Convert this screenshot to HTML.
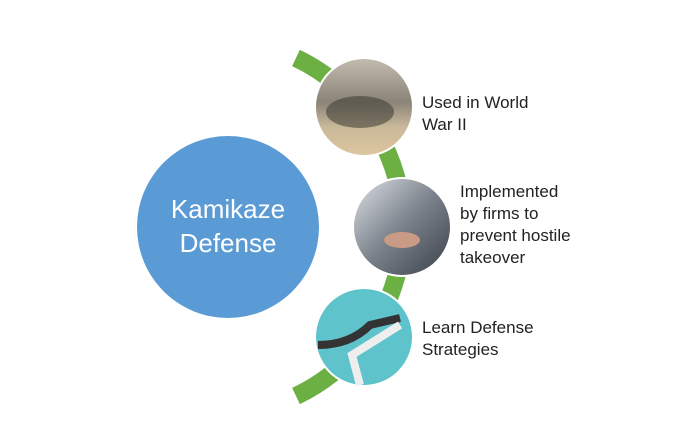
<!DOCTYPE html>
<html><head><style>
body{margin:0;width:700px;height:444px;background:#fff;overflow:hidden;font-family:"Liberation Sans","DejaVu Sans",sans-serif}
.t{position:absolute;font-size:17px;color:#222;line-height:22px}
</style></head><body>
<svg width="700" height="444" style="position:absolute;left:0;top:0">
<defs>
<linearGradient id="g1" x1="0" y1="0" x2="0" y2="1"><stop offset="0" stop-color="#c4bcb0"/><stop offset="0.45" stop-color="#8a8478"/><stop offset="0.7" stop-color="#c9b89a"/><stop offset="1" stop-color="#dcc69c"/></linearGradient>
<linearGradient id="g2" x1="0" y1="0" x2="1" y2="1"><stop offset="0" stop-color="#dfe3e8"/><stop offset="0.5" stop-color="#7a818a"/><stop offset="1" stop-color="#3a3f48"/></linearGradient>
</defs>
<path d="M296 58 A187 187 0 0 1 296 396" fill="none" stroke="#6cb043" stroke-width="18"/>
<circle cx="228" cy="227" r="91" fill="#5b9bd5"/>
<circle cx="364" cy="107" r="49" fill="url(#g1)" stroke="#fff" stroke-width="2"/>
<ellipse cx="360" cy="112" rx="34" ry="16" fill="#3d3a33" opacity="0.55"/>
<circle cx="402" cy="227" r="49" fill="url(#g2)" stroke="#fff" stroke-width="2"/>
<ellipse cx="402" cy="240" rx="18" ry="8" fill="#c99a86"/>
<circle cx="364" cy="337" r="49" fill="#5fc3cc" stroke="#fff" stroke-width="2"/>
<path d="M318 345 Q350 345 370 325 L400 318" fill="none" stroke="#333" stroke-width="8"/>
<path d="M360 385 L352 355 L400 325" fill="none" stroke="#eee" stroke-width="8"/>
<text x="228" y="218" font-family="Liberation Sans, sans-serif" font-size="26" fill="#fff" text-anchor="middle">Kamikaze</text>
<text x="228" y="252" font-family="Liberation Sans, sans-serif" font-size="26" fill="#fff" text-anchor="middle">Defense</text>
</svg>
<div class="t" style="left:422px;top:92px">Used in World<br>War II</div>
<div class="t" style="left:460px;top:181px">Implemented<br>by firms to<br>prevent hostile<br>takeover</div>
<div class="t" style="left:422px;top:317px">Learn Defense<br>Strategies</div>
</body></html>
